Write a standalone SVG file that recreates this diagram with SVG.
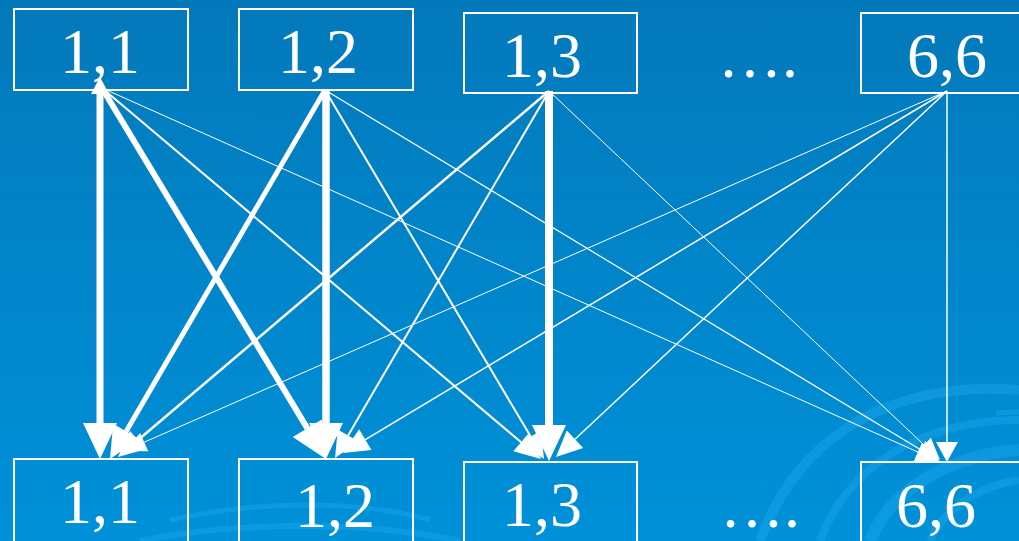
<svg xmlns="http://www.w3.org/2000/svg" width="1019" height="541" viewBox="0 0 1019 541">
<style>
.box{fill:none;stroke:#ffffff;stroke-width:2}
.lbl{font-family:"Liberation Serif","Times New Roman",serif;font-size:64px;fill:#ffffff;text-anchor:middle}
.c{stroke:#ffffff;fill:none;stroke-linecap:butt}
.sw{fill:none;stroke:#1aa6ee;stroke-opacity:0.45}
</style>
<defs>
<linearGradient id="bg" x1="0" y1="0" x2="0" y2="1">
<stop offset="0" stop-color="#0379bb"/>
<stop offset="1" stop-color="#0091d9"/>
</linearGradient>
<marker id="mA" markerUnits="userSpaceOnUse" refX="0" refY="0" orient="auto-start-reverse" overflow="visible" markerWidth="40" markerHeight="40"><path d="M0,-17 L36,0 L0,17 z" fill="#ffffff"/></marker>
<marker id="mA2" markerUnits="userSpaceOnUse" refX="0" refY="0" orient="auto-start-reverse" overflow="visible" markerWidth="40" markerHeight="40"><path d="M0,-15 L32,0 L0,15 z" fill="#ffffff"/></marker>
<marker id="mB" markerUnits="userSpaceOnUse" refX="0" refY="0" orient="auto-start-reverse" overflow="visible" markerWidth="40" markerHeight="40"><path d="M0,-12 L26,0 L0,12 z" fill="#ffffff"/></marker>
<marker id="mC" markerUnits="userSpaceOnUse" refX="0" refY="0" orient="auto-start-reverse" overflow="visible" markerWidth="40" markerHeight="40"><path d="M0,-10 L22,0 L0,10 z" fill="#ffffff"/></marker>
<marker id="mD" markerUnits="userSpaceOnUse" refX="0" refY="0" orient="auto-start-reverse" overflow="visible" markerWidth="40" markerHeight="40"><path d="M0,-11 L20,0 L0,11 z" fill="#ffffff"/></marker>
<marker id="mS" markerUnits="userSpaceOnUse" refX="0" refY="0" orient="auto-start-reverse" overflow="visible" markerWidth="40" markerHeight="40"><path d="M0,-9 L17,0 L0,9 z" fill="#ffffff"/></marker>
</defs>
<rect x="0" y="0" width="1019" height="541" fill="url(#bg)"/>
<g id="swirl">
<path class="sw" d="M760,541 C800,430 900,380 1019,390" stroke-width="10"/>
<path class="sw" d="M820,541 C850,460 930,420 1019,420" stroke-width="8"/>
<path class="sw" d="M870,541 C890,490 950,455 1019,450" stroke-width="12"/>
<path class="sw" d="M930,541 C945,505 985,485 1019,480" stroke-width="8"/>
<path class="sw" d="M996,413 L1019,412" stroke-width="5"/>
<path class="sw" d="M170,520 C260,500 360,500 430,520" stroke-width="5"/>
<path class="sw" d="M140,541 C230,522 360,520 460,541" stroke-width="6"/>
</g>
<g id="connectors">
<line class="c" x1="100" y1="94" x2="100" y2="423" stroke-width="7" marker-start="url(#mS)" marker-end="url(#mA)"/>
<line class="c" x1="102" y1="88" x2="307.3" y2="428.2" stroke-width="6" marker-end="url(#mA)"/>
<line class="c" x1="102" y1="88" x2="521.1" y2="442.2" stroke-width="2" marker-end="url(#mB)"/>
<line class="c" x1="102" y1="88" x2="917.9" y2="452" stroke-width="1" marker-end="url(#mC)"/>
<line class="c" x1="325" y1="90" x2="126.1" y2="431.4" stroke-width="5" marker-end="url(#mA2)"/>
<line class="c" x1="326" y1="90" x2="326" y2="423" stroke-width="7.5" marker-end="url(#mA)"/>
<line class="c" x1="325" y1="90" x2="530.7" y2="436.6" stroke-width="2" marker-end="url(#mB)"/>
<line class="c" x1="325" y1="90" x2="920.2" y2="449.6" stroke-width="1.2" marker-end="url(#mC)"/>
<line class="c" x1="549" y1="91" x2="137.8" y2="440.2" stroke-width="2.5" marker-end="url(#mB)"/>
<line class="c" x1="549" y1="91" x2="348.1" y2="435.5" stroke-width="2" marker-end="url(#mB)"/>
<line class="c" x1="549" y1="91" x2="549" y2="425" stroke-width="8" marker-end="url(#mA)"/>
<line class="c" x1="549" y1="91" x2="924" y2="444.9" stroke-width="1" marker-end="url(#mC)"/>
<line class="c" x1="947" y1="91" x2="144.2" y2="442.2" stroke-width="1" marker-end="url(#mC)"/>
<line class="c" x1="947" y1="91" x2="365.3" y2="439.6" stroke-width="1.5" marker-end="url(#mB)"/>
<line class="c" x1="947" y1="91" x2="575" y2="439.2" stroke-width="1.5" marker-end="url(#mB)"/>
<line class="c" x1="947" y1="91" x2="947" y2="442" stroke-width="1.5" marker-end="url(#mD)"/>
</g>
<g id="top-1-1"><rect class="box" x="14" y="9" width="174" height="81"/><text class="lbl" x="100" y="73">1,1</text></g>
<g id="top-1-2"><rect class="box" x="239" y="9" width="174" height="81"/><text class="lbl" x="318" y="73">1,2</text></g>
<g id="top-1-3"><rect class="box" x="464" y="13" width="173" height="80"/><text class="lbl" x="542" y="77">1,3</text></g>
<g id="top-dots"><text class="lbl" x="758" y="77">….</text></g>
<g id="top-6-6"><rect class="box" x="861" y="13" width="174" height="80"/><text class="lbl" x="947" y="77">6,6</text></g>
<g id="bot-1-1"><rect class="box" x="14" y="459" width="174" height="100"/><text class="lbl" x="100" y="523">1,1</text></g>
<g id="bot-1-2"><rect class="box" x="239" y="459" width="174" height="100"/><text class="lbl" x="335" y="527">1,2</text></g>
<g id="bot-1-3"><rect class="box" x="464" y="462" width="173" height="100"/><text class="lbl" x="542" y="526">1,3</text></g>
<g id="bot-dots"><text class="lbl" x="760" y="527">….</text></g>
<g id="bot-6-6"><rect class="box" x="861" y="462" width="174" height="100"/><text class="lbl" x="936" y="527">6,6</text></g>
</svg>
